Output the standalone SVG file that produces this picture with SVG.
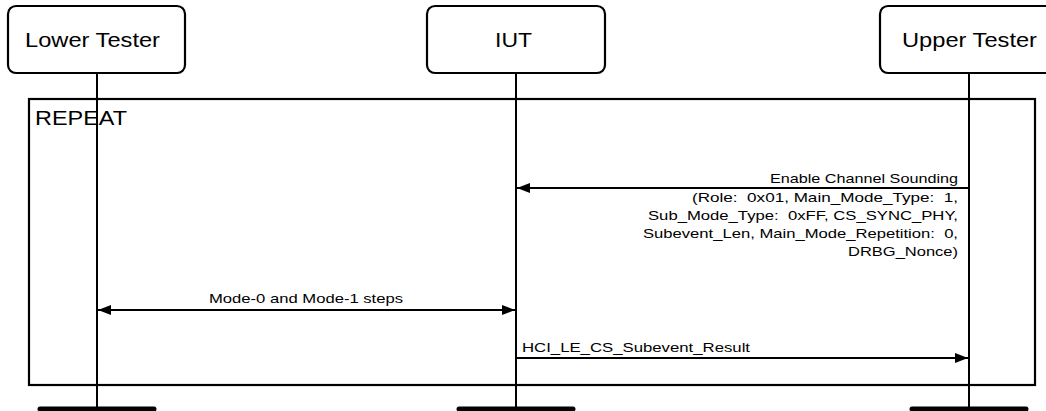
<svg xmlns="http://www.w3.org/2000/svg" width="1046" height="411" viewBox="0 0 1046 411">
<style>
.box{fill:#fff;stroke:#000;stroke-width:2.2}
.life{stroke:#000;stroke-width:2;fill:none}
.bar{stroke:#000;stroke-width:5;stroke-linecap:round}
.frame{fill:none;stroke:#000;stroke-width:2.2}
.msg{stroke:#000;stroke-width:2;fill:none}
.t{font-family:"Liberation Sans",Arial,sans-serif;fill:#000}
.big{font-size:21px}
.sm{font-size:13.5px}
</style>
<defs>
<marker id="ah" viewBox="0 0 13 10" refX="13" refY="5" markerWidth="13" markerHeight="10" markerUnits="userSpaceOnUse" orient="auto-start-reverse">
<path d="M0,0 L13,5 L0,10 Z" fill="#000"/>
</marker>
</defs>
<g id="frame-repeat">
<rect class="frame" x="29" y="99" width="1006" height="286"/>
<text class="t big" x="35" y="125" textLength="92" lengthAdjust="spacingAndGlyphs">REPEAT</text>
</g>
<g id="lower-tester">
<rect class="box" x="8" y="6" width="177" height="67" rx="8"/>
<text class="t big" x="25" y="47" textLength="135" lengthAdjust="spacingAndGlyphs">Lower Tester</text>
<line class="life" x1="97" y1="73" x2="97" y2="409"/>
<line class="bar" x1="40" y1="409" x2="154" y2="409"/>
</g>
<g id="iut">
<rect class="box" x="427" y="6" width="178" height="67" rx="8"/>
<text class="t big" x="495" y="47" textLength="37" lengthAdjust="spacingAndGlyphs">IUT</text>
<line class="life" x1="516" y1="73" x2="516" y2="409"/>
<line class="bar" x1="459" y1="409" x2="573" y2="409"/>
</g>
<g id="upper-tester">
<rect class="box" x="880" y="6" width="178" height="67" rx="8"/>
<text class="t big" x="902" y="47" textLength="135" lengthAdjust="spacingAndGlyphs">Upper Tester</text>
<line class="life" x1="969" y1="73" x2="969" y2="409"/>
<line class="bar" x1="912" y1="409" x2="1026" y2="409"/>
</g>
<g id="connectors">
<line class="msg" x1="968" y1="188" x2="517" y2="188" marker-end="url(#ah)"/>
<text class="t sm" x="958" y="183" text-anchor="end" textLength="188" lengthAdjust="spacingAndGlyphs">Enable Channel Sounding</text>
<text class="t sm" xml:space="preserve" x="958" y="202" text-anchor="end" textLength="266" lengthAdjust="spacingAndGlyphs">(Role:  0x01, Main_Mode_Type:  1,</text>
<text class="t sm" xml:space="preserve" x="958" y="220" text-anchor="end" textLength="310" lengthAdjust="spacingAndGlyphs">Sub_Mode_Type:  0xFF, CS_SYNC_PHY,</text>
<text class="t sm" xml:space="preserve" x="958" y="238" text-anchor="end" textLength="315" lengthAdjust="spacingAndGlyphs">Subevent_Len, Main_Mode_Repetition:  0,</text>
<text class="t sm" x="958" y="256" text-anchor="end" textLength="110" lengthAdjust="spacingAndGlyphs">DRBG_Nonce)</text>
<line class="msg" x1="98" y1="310" x2="515" y2="310" marker-start="url(#ah)" marker-end="url(#ah)"/>
<text class="t sm" x="209" y="303" textLength="194" lengthAdjust="spacingAndGlyphs">Mode-0 and Mode-1 steps</text>
<line class="msg" x1="516" y1="358" x2="968" y2="358" marker-end="url(#ah)"/>
<text class="t sm" x="522" y="352" textLength="228" lengthAdjust="spacingAndGlyphs">HCI_LE_CS_Subevent_Result</text>
</g>
</svg>
